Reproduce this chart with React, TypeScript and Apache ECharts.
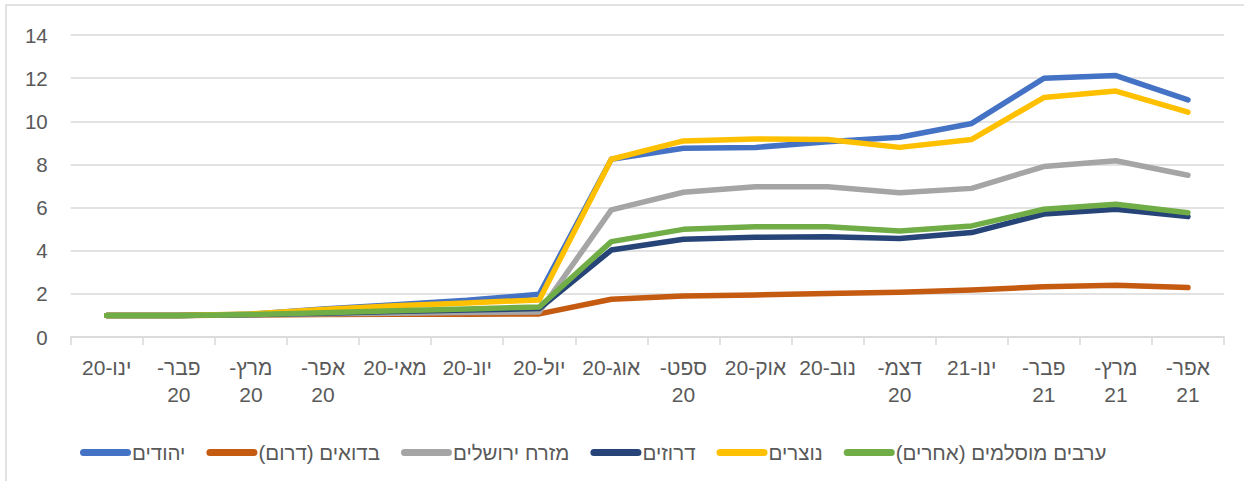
import React, { useEffect, useRef } from "react";
import * as echarts from "echarts";

const categories = [
  "ינו-20", "פבר-20", "מרץ-20", "אפר-20", "מאי-20", "יונ-20", "יול-20", "אוג-20",
  "ספט-20", "אוק-20", "נוב-20", "דצמ-20", "ינו-21", "פבר-21", "מרץ-21", "אפר-21",
];
// categories whose label wraps onto two lines in the reference
const wrapped = ["פבר-20", "מרץ-20", "אפר-20", "ספט-20", "דצמ-20", "פבר-21", "מרץ-21", "אפר-21"];

const seriesNames = [
  "יהודים",
  "בדואים (דרום)",
  "מזרח ירושלים",
  "דרוזים",
  "נוצרים",
  "ערבים מוסלמים (אחרים)",
];

const jews = [1, 1.0, 1.06, 1.3, 1.5, 1.7, 1.98, 8.24, 8.75, 8.79, 9.05, 9.26, 9.9, 11.99, 12.12, 10.99];
const bedouins = [1, 1.0, 1.02, 1.04, 1.05, 1.06, 1.07, 1.75, 1.9, 1.95, 2.02, 2.07, 2.18, 2.33, 2.4, 2.29];
const eastJerusalem = [1, 1.0, 1.03, 1.08, 1.1, 1.13, 1.16, 5.89, 6.71, 6.97, 6.97, 6.69, 6.89, 7.9, 8.17, 7.5];
const druze = [1, 1.0, 1.04, 1.1, 1.18, 1.25, 1.32, 4.03, 4.53, 4.62, 4.65, 4.57, 4.84, 5.7, 5.92, 5.58];
const christians = [1, 1.0, 1.07, 1.28, 1.45, 1.58, 1.72, 8.24, 9.09, 9.18, 9.16, 8.79, 9.16, 11.1, 11.4, 10.42];
const muslims = [1, 1.0, 1.04, 1.12, 1.22, 1.3, 1.39, 4.42, 4.99, 5.11, 5.11, 4.91, 5.15, 5.92, 6.15, 5.76];

const seriesData = [jews, bedouins, eastJerusalem, druze, christians, muslims];
const colors = ["#4472C4", "#C55A11", "#A5A5A5", "#264478", "#FFC000", "#70AD47"];

const yTicks = { min: 0, max: 14, interval: 2 };

const FONT = "'Liberation Sans', Arial, sans-serif";

export default function App() {
  const ref = useRef<HTMLDivElement>(null);

  useEffect(() => {
    document.body.style.margin = "0";
    if (!ref.current) return;
    const chart = echarts.init(ref.current, undefined, { renderer: "svg" });
    chart.setOption({
      animation: false,
      backgroundColor: "#ffffff",
      textStyle: { fontFamily: FONT },
      graphic: [
        {
          type: "rect",
          shape: { x: 6, y: 5, width: 1260, height: 500 },
          style: { fill: "none", stroke: "#d9d9d9", lineWidth: 1.5 },
          silent: true,
          z: -10,
        },
      ],
      grid: { left: 70.7, right: 20, top: 35, bottom: 144, containLabel: false },
      legend: {
        left: 75,
        top: 437,
        itemWidth: 51,
        itemHeight: 7,
        itemGap: 21,
        icon: "path://M3.5,0 H47.5 A3.5,3.5 0 0 1 47.5,7 H3.5 A3.5,3.5 0 0 1 3.5,0 Z",
        textStyle: { color: "#595959", fontSize: 20.5, fontFamily: FONT, padding: [0, 0, 0, -4] },
        data: seriesNames,
      },
      xAxis: {
        type: "category",
        data: categories,
        boundaryGap: true,
        axisLine: { lineStyle: { color: "#d9d9d9", width: 1.5 } },
        axisTick: { show: true, length: 8, lineStyle: { color: "#d9d9d9", width: 1.5 } },
        axisLabel: {
          interval: 0,
          color: "#595959",
          fontSize: 21,
          lineHeight: 27,
          margin: 17,
          fontFamily: FONT,
          formatter: (v: string) => {
            if (wrapped.indexOf(v) >= 0) {
              const i = v.indexOf("-");
              return v.slice(0, i + 1) + "\u200F\n" + v.slice(i + 1);
            }
            return v;
          },
        },
      },
      yAxis: {
        type: "value",
        min: yTicks.min,
        max: yTicks.max,
        interval: yTicks.interval,
        axisLine: { show: false },
        axisTick: { show: false },
        splitLine: { lineStyle: { color: "#d9d9d9", width: 1.5 } },
        axisLabel: { color: "#595959", fontSize: 20.5, margin: 23, fontFamily: FONT },
      },
      series: seriesNames.map((name, i) => ({
        name,
        type: "line",
        data: seriesData[i],
        symbol: "none",
        smooth: false,
        color: colors[i],
        lineStyle: { width: 5.5, color: colors[i], cap: "round", join: "round" },
      })),
    });
    return () => chart.dispose();
  }, []);

  return <div ref={ref} style={{ width: 1244, height: 481 }} />;
}
